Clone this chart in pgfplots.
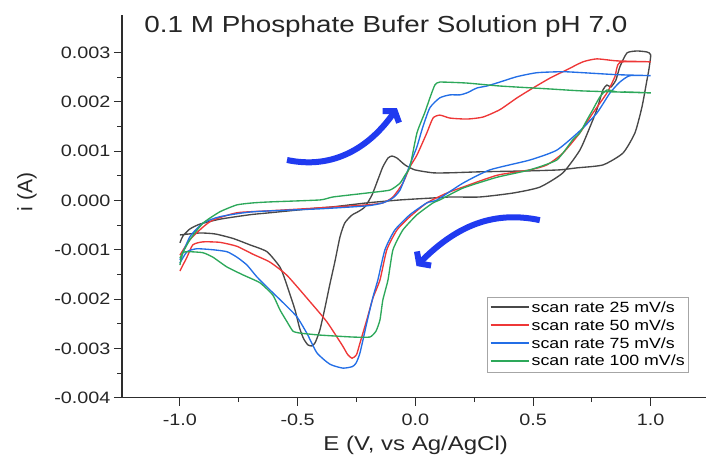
\documentclass[border=0pt]{standalone}
\usepackage{fontspec}
\setmainfont{Liberation Sans}[FakeStretch=1.2]
\newfontfamily\plainsans{Liberation Sans}
\usepackage{pgfplots}
\pgfplotsset{compat=1.18}
\usetikzlibrary{arrows.meta}
\definecolor{cvblack}{RGB}{72,72,72}
\definecolor{cvred}{RGB}{238,55,55}
\definecolor{cvblue}{RGB}{35,110,230}
\definecolor{cvgreen}{RGB}{45,168,90}
\definecolor{arrowblue}{RGB}{32,58,240}
\definecolor{axisgray}{RGB}{45,45,45}
\begin{document}
\begin{tikzpicture}
\begin{axis}[
  scale only axis, width=583.8pt, height=382.7pt,
  xmin=-1.246, xmax=1.234, ymin=-0.004, ymax=0.00376,
  axis x line*=bottom, axis y line*=left,
  axis line style={line width=1.3pt, color=axisgray},
  tick align=outside, major tick length=8pt, minor tick length=4.5pt,
  every tick/.style={line width=1pt, color=axisgray},
  xtick={-1,-0.5,0,0.5,1}, minor x tick num=1,
  ytick={-0.004,-0.003,-0.002,-0.001,0,0.001,0.002,0.003}, minor y tick num=1,
  scaled y ticks=false, scaled x ticks=false,
  /pgf/number format/assume math mode=true,
  xticklabel style={/pgf/number format/.cd, fixed, fixed zerofill, precision=1, /tikz/.cd, yshift=-5pt},
  yticklabel style={/pgf/number format/.cd, fixed, fixed zerofill, precision=3},
  ticklabel style={font=\fontsize{16.5}{19}\selectfont, text=black!85},
  xlabel={E (V, vs Ag/AgCl)},
  ylabel={i (A)},
  xlabel style={font=\fontsize{20}{24}\selectfont, text=black!85, at={(axis description cs:0.503,-0.137)}, anchor=base},
  ylabel style={font=\plainsans\fontsize{21}{24}\selectfont, text=black!85, at={(axis description cs:-0.163,0.537)}, anchor=center},
  legend style={at={(0.971,0.067)}, anchor=south east, draw=gray!70,
     font=\fontsize{14.8}{17}\selectfont, inner xsep=2pt, inner ysep=2.5pt, row sep=1.6pt, cells={anchor=west}},
  legend image code/.code={\draw[#1, line width=2pt] (0pt,0.3pt) -- (38pt,0.3pt);},
  every axis plot/.append style={line width=1.35pt},
]
\addplot[cvblack, smooth, tension=0.35] coordinates {(-1.000,-0.00086) (-0.987,-0.00072) (-0.958,-0.00058) (-0.915,-0.00048) (-0.830,-0.00038) (-0.703,-0.00029) (-0.618,-0.00025) (-0.490,-0.00019) (-0.405,-0.00015) (-0.350,-0.00013) (-0.206,-0.00005) (-0.065,0.00001) (0.075,0.00005) (0.147,0.00007) (0.274,0.00007) (0.415,0.00015) (0.529,0.00027) (0.627,0.00056) (0.699,0.00102) (0.742,0.00149) (0.771,0.00184) (0.797,0.00224) (0.814,0.00234) (0.831,0.00230) (0.852,0.00244) (0.869,0.00271) (0.899,0.00299) (0.941,0.00303) (0.984,0.00301) (1.000,0.00295) (0.992,0.00265) (0.984,0.00244) (0.963,0.00190) (0.933,0.00137) (0.882,0.00096) (0.797,0.00072) (0.686,0.00066) (0.614,0.00062) (0.487,0.00060) (0.274,0.00058) (0.147,0.00056) (0.075,0.00056) (-0.002,0.00062) (-0.044,0.00072) (-0.078,0.00086) (-0.099,0.00090) (-0.116,0.00086) (-0.138,0.00068) (-0.159,0.00042) (-0.184,0.00011) (-0.214,-0.00013) (-0.240,-0.00022) (-0.270,-0.00030) (-0.300,-0.00046) (-0.320,-0.00074) (-0.342,-0.00125) (-0.363,-0.00170) (-0.384,-0.00218) (-0.405,-0.00262) (-0.425,-0.00288) (-0.439,-0.00295) (-0.456,-0.00293) (-0.475,-0.00280) (-0.492,-0.00258) (-0.511,-0.00222) (-0.533,-0.00190) (-0.554,-0.00160) (-0.575,-0.00135) (-0.630,-0.00104) (-0.703,-0.00090) (-0.775,-0.00077) (-0.850,-0.00068) (-0.915,-0.00066) (-1.000,-0.00070)};
\addlegendentry{scan rate 25 mV/s}
\addplot[cvred, smooth, tension=0.35] coordinates {(-1.000,-0.00111) (-0.958,-0.00080) (-0.902,-0.00054) (-0.860,-0.00040) (-0.758,-0.00025) (-0.618,-0.00021) (-0.405,-0.00015) (-0.206,-0.00009) (-0.138,-0.00005) (-0.095,0.00007) (-0.053,0.00035) (-0.023,0.00068) (0.007,0.00092) (0.049,0.00137) (0.075,0.00167) (0.104,0.00173) (0.147,0.00167) (0.219,0.00165) (0.287,0.00169) (0.359,0.00184) (0.432,0.00208) (0.500,0.00228) (0.572,0.00248) (0.644,0.00265) (0.712,0.00281) (0.771,0.00287) (0.856,0.00283) (1.000,0.00281) (0.869,0.00280) (0.848,0.00251) (0.814,0.00218) (0.754,0.00177) (0.699,0.00137) (0.627,0.00096) (0.559,0.00072) (0.487,0.00062) (0.347,0.00051) (0.202,0.00027) (0.134,0.00015) (0.049,-0.00005) (-0.023,-0.00033) (-0.078,-0.00060) (-0.121,-0.00100) (-0.150,-0.00161) (-0.180,-0.00198) (-0.206,-0.00242) (-0.235,-0.00289) (-0.250,-0.00313) (-0.269,-0.00320) (-0.288,-0.00312) (-0.310,-0.00294) (-0.376,-0.00246) (-0.448,-0.00205) (-0.545,-0.00152) (-0.618,-0.00125) (-0.690,-0.00109) (-0.758,-0.00093) (-0.830,-0.00085) (-0.902,-0.00084) (-0.945,-0.00090) (-0.970,-0.00115) (-1.000,-0.00143)};
\addlegendentry{scan rate 50 mV/s}
\addplot[cvblue, smooth, tension=0.35] coordinates {(-1.000,-0.00121) (-0.958,-0.00074) (-0.902,-0.00046) (-0.830,-0.00033) (-0.690,-0.00023) (-0.405,-0.00017) (-0.206,-0.00011) (-0.138,-0.00005) (-0.095,0.00005) (-0.065,0.00021) (-0.036,0.00056) (-0.010,0.00088) (0.007,0.00109) (0.032,0.00149) (0.062,0.00188) (0.104,0.00208) (0.147,0.00214) (0.189,0.00214) (0.219,0.00218) (0.262,0.00228) (0.304,0.00232) (0.359,0.00240) (0.432,0.00251) (0.517,0.00259) (0.627,0.00261) (0.712,0.00259) (0.856,0.00255) (1.000,0.00253) (0.912,0.00253) (0.869,0.00240) (0.827,0.00218) (0.771,0.00177) (0.699,0.00141) (0.601,0.00102) (0.487,0.00082) (0.317,0.00062) (0.202,0.00035) (0.092,0.00001) (0.049,-0.00005) (-0.023,-0.00029) (-0.087,-0.00060) (-0.129,-0.00100) (-0.159,-0.00161) (-0.180,-0.00196) (-0.206,-0.00248) (-0.235,-0.00309) (-0.252,-0.00330) (-0.268,-0.00337) (-0.308,-0.00340) (-0.363,-0.00332) (-0.418,-0.00309) (-0.460,-0.00270) (-0.503,-0.00236) (-0.560,-0.00208) (-0.610,-0.00185) (-0.673,-0.00155) (-0.715,-0.00131) (-0.758,-0.00115) (-0.800,-0.00104) (-0.860,-0.00100) (-0.928,-0.00098) (-0.970,-0.00104) (-1.000,-0.00127)};
\addlegendentry{scan rate 75 mV/s}
\addplot[cvgreen, smooth, tension=0.3] coordinates {(-1.000,-0.00117) (-0.958,-0.00080) (-0.902,-0.00046) (-0.830,-0.00023) (-0.758,-0.00009) (-0.690,-0.00005) (-0.618,-0.00003) (-0.405,0.00001) (-0.350,0.00007) (-0.206,0.00015) (-0.108,0.00021) (-0.065,0.00035) (-0.044,0.00051) (-0.023,0.00068) (0.007,0.00137) (0.041,0.00179) (0.062,0.00208) (0.083,0.00234) (0.104,0.00240) (0.219,0.00238) (0.359,0.00232) (0.572,0.00226) (0.712,0.00222) (1.000,0.00218) (0.899,0.00220) (0.856,0.00220) (0.814,0.00224) (0.784,0.00210) (0.754,0.00184) (0.729,0.00163) (0.699,0.00137) (0.669,0.00123) (0.601,0.00082) (0.487,0.00062) (0.347,0.00047) (0.202,0.00025) (0.104,0.00001) (0.075,-0.00005) (0.007,-0.00029) (-0.053,-0.00060) (-0.095,-0.00100) (-0.116,-0.00161) (-0.138,-0.00202) (-0.150,-0.00242) (-0.167,-0.00265) (-0.193,-0.00277) (-0.265,-0.00277) (-0.405,-0.00273) (-0.490,-0.00269) (-0.520,-0.00265) (-0.545,-0.00246) (-0.575,-0.00222) (-0.605,-0.00192) (-0.660,-0.00167) (-0.732,-0.00151) (-0.800,-0.00135) (-0.860,-0.00115) (-0.902,-0.00106) (-0.958,-0.00104) (-0.987,-0.00106) (-1.000,-0.00131)};
\addlegendentry{scan rate 100 mV/s}
\draw[arrowblue, line width=6pt, -{Straight Barb[length=7pt,width=20pt]}] (axis cs:-0.545,0.00082) to[out=-12,in=-125] (axis cs:-0.078,0.00187);
\draw[arrowblue, line width=6pt, -{Straight Barb[length=7pt,width=20pt]}] (axis cs:0.529,-0.00040) to[out=168,in=45] (axis cs:0.005,-0.00133);
\node[anchor=base, font=\fontsize{23.2}{27}\selectfont, text=black!85] at (rel axis cs:0.452,0.953) {0.1 M Phosphate Bufer Solution pH 7.0};
\end{axis}
\pgfresetboundingbox
\path[use as bounding box] (-122pt,-61.3pt) rectangle (584pt,397.7pt);
\end{tikzpicture}
\end{document}
